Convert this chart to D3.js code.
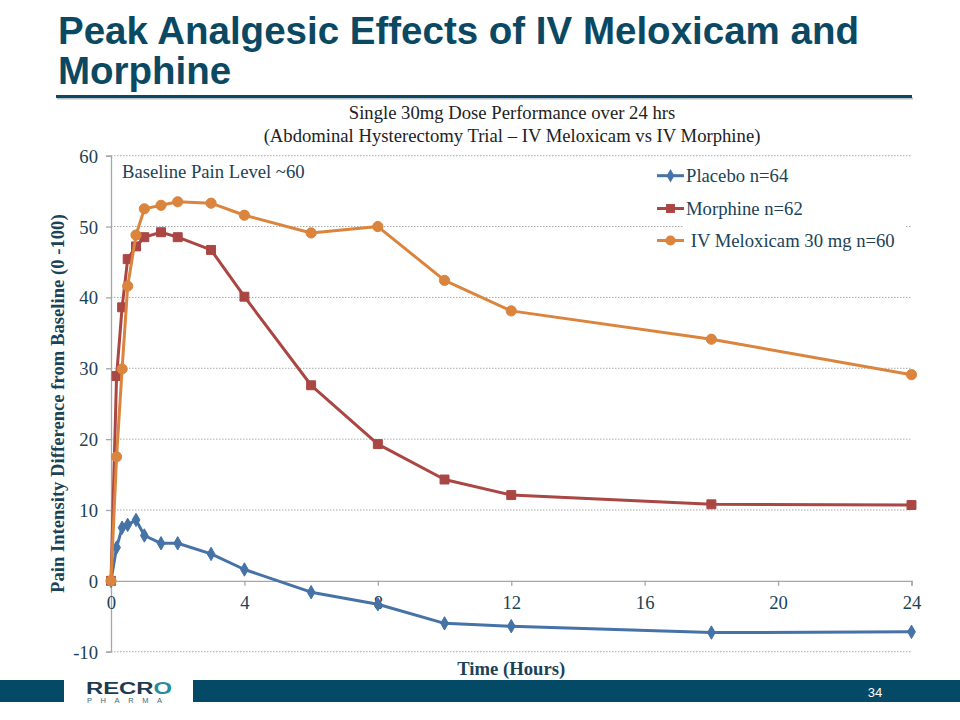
<!DOCTYPE html>
<html>
<head>
<meta charset="utf-8">
<script src="https://cdn.jsdelivr.net/npm/d3@7"></script>
<style>
  html, body { margin: 0; padding: 0; background: #fff; }
  svg { display: block; }
</style>
</head>
<body>
<svg id="chart" width="960" height="720"></svg>
<script>
// ---- data ----
const timesHours = [0, 0.167, 0.333, 0.5, 0.75, 1, 1.5, 2, 3, 4, 6, 8, 10, 12, 18, 24];
const placeboValues   = [0, 4.7, 7.5, 7.9, 8.6, 6.4, 5.3, 5.3, 3.8, 1.6, -1.6, -3.3, -6.0, -6.4, -7.3, -7.2];
const morphineValues  = [0, 28.9, 38.6, 45.4, 47.2, 48.5, 49.2, 48.5, 46.7, 40.1, 27.6, 19.3, 14.3, 12.1, 10.8, 10.7];
const meloxicamValues = [0, 17.5, 29.9, 41.6, 48.8, 52.5, 53.0, 53.5, 53.3, 51.6, 49.1, 50.0, 42.4, 38.1, 34.1, 29.1];
const seriesNames = ["Placebo n=64", "Morphine n=62", " IV Meloxicam 30 mg n=60"];
const xTicks = [0, 4, 8, 12, 16, 20, 24];
const yTicks = [-10, 0, 10, 20, 30, 40, 50, 60];

const titleLines = ["Peak Analgesic Effects of IV Meloxicam and", "Morphine"];
const subtitleLines = ["Single 30mg Dose Performance over 24 hrs", "(Abdominal Hysterectomy Trial \u2013 IV Meloxicam vs IV Morphine)"];

// ---- setup ----
const svg = d3.select("#chart");
const serif = "'Liberation Serif', 'Times New Roman', Times, serif";
const sans = "'Liberation Sans', Arial, Helvetica, sans-serif";
const textColor = "#1b4257";
const titleColor = "#0b4963";
const axisColor = "#a6a6a6";

const colors = ["#4572a7", "#aa4643", "#db843d"];
const x = d3.scaleLinear().domain([0, 24]).range([111, 911.5]);
const y = d3.scaleLinear().domain([-10, 60]).range([651.7, 155.7]);
const numFmt = d => String(d);

// ---- title ----
svg.append("text").attr("x", 58).attr("y", 43.5)
  .attr("font-family", sans).attr("font-weight", "bold").attr("font-size", 38.5)
  .attr("fill", titleColor).text(titleLines[0]);
svg.append("text").attr("x", 58).attr("y", 83.5)
  .attr("font-family", sans).attr("font-weight", "bold").attr("font-size", 38.5)
  .attr("fill", titleColor).text(titleLines[1]);
// underline with shadow
svg.append("line").attr("x1", 57).attr("x2", 913).attr("y1", 98.5).attr("y2", 98.5)
  .attr("stroke", "#b8c2c8").attr("stroke-width", 2);
svg.append("line").attr("x1", 56).attr("x2", 912).attr("y1", 96.5).attr("y2", 96.5)
  .attr("stroke", titleColor).attr("stroke-width", 3);

// ---- subtitle ----
subtitleLines.forEach((t, i) => {
  svg.append("text").attr("x", 512).attr("y", 119 + i * 22.5)
    .attr("text-anchor", "middle").attr("font-family", serif).attr("font-size", 18.67)
    .attr("fill", "#222").text(t);
});

// ---- gridlines ----
const grid = svg.append("g");
grid.selectAll("line").data(yTicks.filter(d => d !== 0)).join("line")
  .attr("x1", x(0)).attr("x2", x(24))
  .attr("y1", d => y(d)).attr("y2", d => y(d))
  .attr("stroke", "#a8a8a8").attr("stroke-width", 1)
  .attr("stroke-dasharray", "1.5,1.5");

// ---- axes ----
const yAxis = d3.axisLeft(y).tickValues(yTicks).tickSize(5).tickPadding(8).tickFormat(numFmt);
const gy = svg.append("g").attr("transform", `translate(${x(0)},0)`).call(yAxis);
gy.select(".domain").attr("stroke", axisColor).attr("stroke-width", 1.3);
gy.selectAll(".tick line").attr("stroke", axisColor).attr("stroke-width", 1.3);
gy.selectAll(".tick text").attr("font-family", serif).attr("font-size", 18.67)
  .attr("fill", textColor).attr("dy", "0.35em");

const xAxis = d3.axisBottom(x).tickValues(xTicks).tickSize(5).tickPadding(10).tickFormat(numFmt);
const gx = svg.append("g").attr("transform", `translate(0,${y(0)})`).call(xAxis);
gx.select(".domain").attr("stroke", axisColor).attr("stroke-width", 1.3);
gx.selectAll(".tick line").attr("stroke", axisColor).attr("stroke-width", 1.3);
gx.selectAll(".tick text").attr("font-family", serif).attr("font-size", 18.67)
  .attr("fill", textColor);

// axis titles
svg.append("text")
  .attr("transform", `translate(64,${(y(60) + y(-10)) / 2}) rotate(-90)`)
  .attr("text-anchor", "middle").attr("font-family", serif).attr("font-weight", "bold")
  .attr("font-size", 18.67).attr("fill", textColor)
  .text("Pain Intensity Difference from Baseline (0 -100)");
svg.append("text").attr("x", (x(0) + x(24)) / 2).attr("y", 675)
  .attr("text-anchor", "middle").attr("font-family", serif).attr("font-weight", "bold")
  .attr("font-size", 18.67).attr("fill", textColor).text("Time (Hours)");

// annotation
svg.append("text").attr("x", 122).attr("y", 178)
  .attr("font-family", serif).attr("font-size", 18.67).attr("fill", textColor)
  .text("Baseline Pain Level ~60");

// ---- series ----
const allValues = [placeboValues, morphineValues, meloxicamValues];
const symbols = [d3.symbolDiamond, d3.symbolSquare, d3.symbolCircle];
const symbolSizes = [52, 80, 82];
const line = d3.line().x(d => x(d[0])).y(d => y(d[1]));

// legend background
svg.append("rect").attr("x", 683).attr("y", 160).attr("width", 222).attr("height", 98)
  .attr("fill", "#fff");

allValues.forEach((vals, i) => {
  const pts = timesHours.map((t, j) => [t, vals[j]]);
  const g = svg.append("g");
  g.append("path").datum(pts).attr("d", line)
    .attr("fill", "none").attr("stroke", colors[i]).attr("stroke-width", 3)
    .attr("stroke-linejoin", "round");
  g.selectAll("path.m").data(pts).join("path").attr("class", "m")
    .attr("transform", d => `translate(${x(d[0])},${y(d[1])})`)
    .attr("d", d3.symbol().type(symbols[i]).size(symbolSizes[i]))
    .attr("fill", colors[i]).attr("stroke", colors[i]).attr("stroke-width", 1);
});

// ---- legend ----
const legendY = [175.7, 208.5, 240.5];
seriesNames.forEach((name, i) => {
  const g = svg.append("g");
  g.append("line").attr("x1", 657).attr("x2", 684).attr("y1", legendY[i]).attr("y2", legendY[i])
    .attr("stroke", colors[i]).attr("stroke-width", 3);
  g.append("path").attr("transform", `translate(670.5,${legendY[i]})`)
    .attr("d", d3.symbol().type(symbols[i]).size(symbolSizes[i]))
    .attr("fill", colors[i]);
  g.append("text").attr("x", 686).attr("y", legendY[i] + 6)
    .attr("font-family", serif).attr("font-size", 18.67).attr("fill", textColor)
    .attr("xml:space", "preserve").style("white-space", "pre")
    .text(name);
});

// ---- footer ----
const footerColor = "#044a66";
svg.append("rect").attr("x", 0).attr("y", 680).attr("width", 64).attr("height", 22).attr("fill", footerColor);
svg.append("rect").attr("x", 193).attr("y", 680).attr("width", 767).attr("height", 22).attr("fill", footerColor);
svg.append("text").attr("x", 875).attr("y", 697).attr("text-anchor", "middle")
  .attr("font-family", sans).attr("font-size", 13).attr("fill", "#fff").text("34");
// logo
const logo = svg.append("text").attr("x", 86).attr("y", 694)
  .attr("font-family", sans).attr("font-weight", "bold").attr("font-size", 16)
  .attr("textLength", 86).attr("lengthAdjust", "spacingAndGlyphs").attr("fill", "#1d3b50");
logo.append("tspan").text("RECR");
logo.append("tspan").attr("fill", "#2a8a9c").text("O");
svg.append("text").attr("x", 87).attr("y", 703)
  .attr("font-family", sans).attr("font-size", 7.5).attr("letter-spacing", 8.6)
  .attr("fill", "#3a6a7a").text("PHARMA");
</script>
</body>
</html>
